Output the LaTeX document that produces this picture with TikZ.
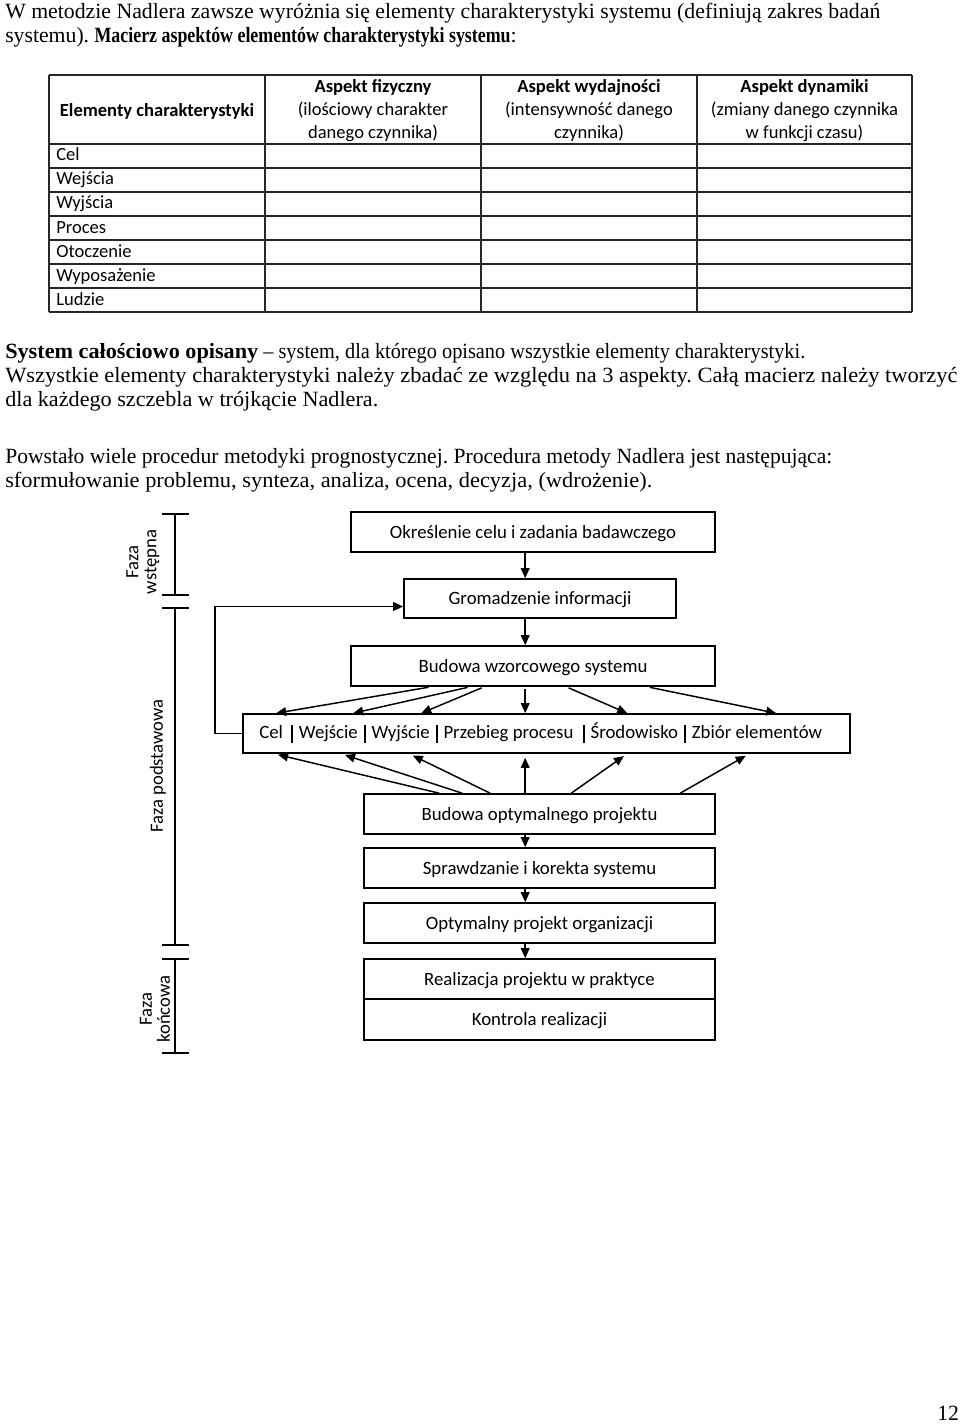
\documentclass[tikz,border=0pt]{standalone}
\usepackage{fontspec}
\setmainfont{Liberation Serif}
\newfontfamily\calf{Carlito}
\usetikzlibrary{arrows.meta,calc}
\frenchspacing
\newcommand\midsep[1][4.3pt]{\hspace{#1}\rule[-3.5pt]{1.7pt}{13.5pt}\hspace{4.3pt}}
\newcommand\fitline[2]{\resizebox{#1}{\height}{#2}}
\begin{document}
\begin{tikzpicture}[x=0.75pt,y=-0.75pt,
  body/.style={anchor=base west, inner sep=0, font=\fontsize{16.3}{19}\selectfont},
  cell/.style={anchor=base west, inner sep=0, font=\calf\fontsize{13.9}{17}\selectfont},
  head/.style={align=center, inner sep=0, font=\calf\fontsize{13.9}{17.25}\selectfont},
  box/.style={draw, line width=1.2pt, inner sep=0, text height=11.5pt, text depth=2.5pt, font=\calf\fontsize{14.1}{17}\selectfont},
  wbox/.style={box, minimum width=273pt, minimum height=30pt},
  nbox/.style={box, minimum width=263.25pt, minimum height=30pt},
  arr/.style={-{Triangle[length=7.5pt,width=6.5pt]}, line width=1.1pt},
  tab/.style={line width=0.8pt, black!85},
  brk/.style={line width=1.1pt},
  lab/.style={rotate=90, align=center, inner sep=0, font=\calf\fontsize{14}{13.5}\selectfont}
]
\useasboundingbox (0,0) rectangle (960,1427);

% ---- top paragraph
\node[body] (t1) at (5,19) {\fitline{656.25pt}{W metodzie Nadlera zawsze wyróżnia się elementy charakterystyki systemu (definiują zakres badań}};
\node[body] (t2) at (5,43) {systemu). \fitline{312pt}{\textbf{Macierz aspektów elementów charakterystyki systemu}}:};

% ---- table
\foreach \y in {75,144,168,192,216,240,264,288,312} \draw[tab] (49,\y) -- (912,\y);
\foreach \x in {49,265,481,697,912} \draw[tab] (\x,75) -- (\x,312);
\node[head] (h1) at (157,112) {\strut\textbf{Elementy charakterystyki}};
\node[head] (h2) at (373,111) {\strut\textbf{Aspekt fizyczny}\\\strut(ilościowy charakter\\\strut danego czynnika)};
\node[head] (h3) at (589,111) {\strut\textbf{Aspekt wydajności}\\\strut(intensywność danego\\\strut czynnika)};
\node[head] (h4) at (804.5,111) {\strut\textbf{Aspekt dynamiki}\\\strut(zmiany danego czynnika\\\strut w funkcji czasu)};
\node[cell] (r1) at (56,161) {Cel};
\node[cell] (r2) at (56,185) {Wejścia};
\node[cell] (r3) at (56,209) {Wyjścia};
\node[cell] (r4) at (56,233) {Proces};
\node[cell] (r5) at (56,257) {Otoczenie};
\node[cell] (r6) at (56,281) {Wyposażenie};
\node[cell] (r7) at (56,305) {Ludzie};

% ---- middle paragraphs
\node[body] (p1) at (5,358) {\fitline{189.75pt}{\textbf{System całościowo opisany}}\fitline{410.25pt}{ – system, dla którego opisano wszystkie elementy charakterystyki.}};
\node[body] (p2) at (5,382) {\fitline{714pt}{Wszystkie elementy charakterystyki należy zbadać ze względu na 3 aspekty. Całą macierz należy tworzyć}};
\node[body] (p3) at (5,406) {\fitline{279.75pt}{dla każdego szczebla w trójkącie Nadlera.}};
\node[body] (p4) at (5,463) {\fitline{620.25pt}{Powstało wiele procedur metodyki prognostycznej. Procedura metody Nadlera jest następująca:}};
\node[body] (p5) at (5,487) {\fitline{485.25pt}{sformułowanie problemu, synteza, analiza, ocena, decyzja, (wdrożenie).}};

% ---- flowchart boxes
\node[wbox] (b1) at (533,532) {Określenie celu i zadania badawczego};
\node[box, minimum width=204pt, minimum height=29.25pt] (b2) at (540,598.5) {Gromadzenie informacji};
\node[wbox] (b3) at (533,666) {Budowa wzorcowego systemu};
\node[box, minimum width=455.25pt, minimum height=29.25pt] (mid) at (546.5,733.5) {};
\node[anchor=base west, inner sep=0, font=\calf\fontsize{14.1}{17}\selectfont] (midtxt) at (259,738)
  {Cel\midsep[6pt]Wejście\midsep Wyjście\midsep Przebieg procesu\midsep[7pt]Środowisko\midsep Zbiór elementów};
\node[nbox] (b5) at (539.5,814) {Budowa optymalnego projektu};
\node[nbox] (b6) at (539.5,868) {Sprawdzanie i korekta systemu};
\node[nbox] (b7) at (539.5,923) {Optymalny projekt organizacji};
\node[nbox] (b8) at (539.5,979) {Realizacja projektu w praktyce};
\node[nbox, minimum height=30.75pt] (b9) at (539.5,1019.5) {Kontrola realizacji};

% ---- vertical arrows
\draw[arr] ($(b1.south west)+(175,0)$) -- ($(b2.north west)+(122,0)$);
\draw[arr] ($(b2.south west)+(122,0)$) -- ($(b3.north west)+(175,0)$);
\draw[arr] ($(b5.south west)+(162,0)$) -- ($(b6.north west)+(162,0)$);
\draw[arr] ($(b6.south west)+(162,0)$) -- ($(b7.north west)+(162,0)$);
\draw[arr] ($(b7.south west)+(162,0)$) -- ($(b8.north west)+(162,0)$);

% ---- fan from b3 to mid
\foreach \s/\t in {81/34, 120/111, 134/179, 175/283, 216/385, 297/534}
  \draw[arr, shorten <=2pt] ($(b3.south west)+(\s,0)$) -- ($(mid.north west)+(\t,0)$);
% ---- fan from b5 to mid
\foreach \s/\t in {76/32, 99/99, 127/167, 162/283, 208/385, 317/507}
  \draw[arr, shorten >=3pt] ($(b5.north west)+(\s,0)$) -- ($(mid.south west)+(\t,0)$);

% ---- feedback
\draw[arr] (mid.west) -- ++(-27,0) |- ($(b2.west)+(0,8)$);

% ---- phase brackets
\draw[brk] (175,514) -- (175,595) (162,514) -- (189,514) (162,595) -- (189,595);
\draw[brk] (175,608) -- (175,945) (162,608) -- (189,608) (162,945) -- (189,945);
\draw[brk] (175,959) -- (175,1053) (162,959) -- (189,959) (162,1053) -- (189,1053);
\node[lab] (fw) at (143,562) {Faza\\wstępna};
\node[lab] (fp) at (158,766) {Faza podstawowa};
\node[lab] (fk) at (155,1009) {Faza\\końcowa};

% ---- page number
\node[body] (pg) at (937,1420) {12};
\end{tikzpicture}
\end{document}
